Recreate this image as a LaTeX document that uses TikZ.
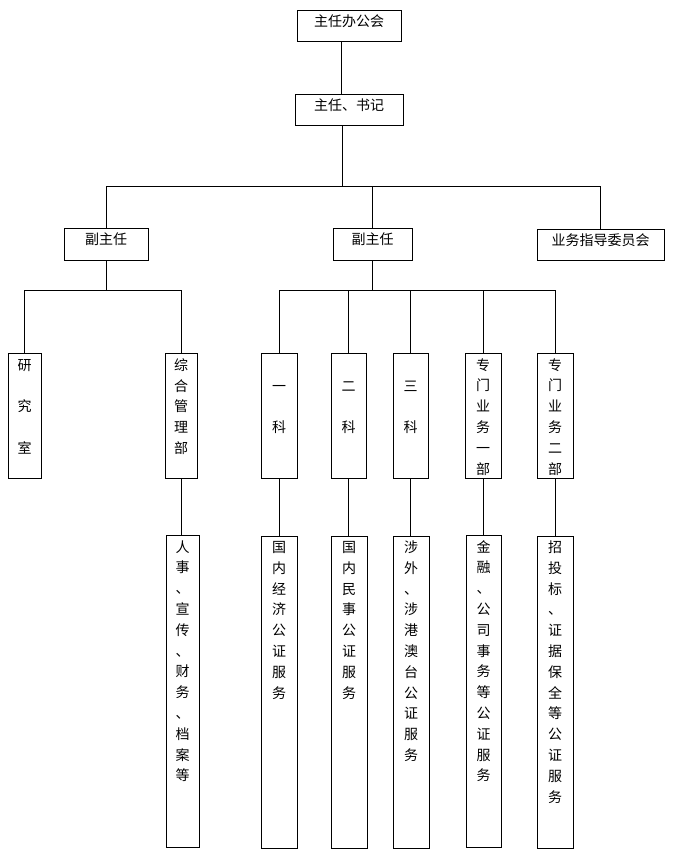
\documentclass[tikz,border=0pt]{standalone}
\usepackage{fontspec}
\newfontfamily\zhfont{Noto Sans CJK SC}
\newcommand{\zs}{\rule{0pt}{12pt}}
\begin{document}
\begin{tikzpicture}[x=1pt,y=-1pt,line width=1pt,
  box/.style={draw,line width=1pt,inner sep=0pt},
  txt/.style={font=\zhfont\fontsize{14pt}{20.8pt}\selectfont,align=center,inner sep=0pt,anchor=north}]
\fill[white] (0,0) rectangle (673,853);
\useasboundingbox (0,0) rectangle (673,853);
% level 1-2
\node[box,minimum width=104pt,minimum height=31pt] (b1) at (349,26.5) {};
\node[txt] (t1) at ([yshift=-4pt]b1.north) {\zs 主任办公会};
\node[box,minimum width=108pt,minimum height=31pt] (b2) at (349,110.5) {};
\node[txt] (t2) at ([yshift=-4pt]b2.north) {\zs 主任、书记};
% level 3
\node[box,minimum width=84pt,minimum height=32pt] (vl) at (106,244) {};
\node[txt] (tvl) at ([yshift=-4.5pt]vl.north) {\zs 副主任};
\node[box,minimum width=79pt,minimum height=32pt] (vc) at (372.5,244) {};
\node[txt] (tvc) at ([yshift=-4.5pt]vc.north) {\zs 副主任};
\node[box,minimum width=127pt,minimum height=31pt] (vw) at (600.5,244.5) {};
\node[txt] (tvw) at ([yshift=-4pt]vw.north) {\zs 业务指导委员会};
% level 4 (top 353, bottom 478)
\node[box,minimum width=33pt,minimum height=125pt] (r1) at (24.5,415.5) {};
\node[box,minimum width=32pt,minimum height=125pt] (r2) at (181,415.5) {};
\node[box,minimum width=36pt,minimum height=125pt] (r3) at (279,415.5) {};
\node[box,minimum width=35pt,minimum height=125pt] (r4) at (348.5,415.5) {};
\node[box,minimum width=35pt,minimum height=125pt] (r5) at (410.5,415.5) {};
\node[box,minimum width=36pt,minimum height=125pt] (r6) at (483,415.5) {};
\node[box,minimum width=36pt,minimum height=125pt] (r7) at (555,415.5) {};
\node[txt] (tr1) at ([yshift=-5.3pt]r1.north) {\zs 研\\[20.8pt]究\\[20.8pt]室};
\node[txt] (tr2) at ([yshift=-5.3pt]r2.north) {\zs 综\\合\\管\\理\\部};
\node[txt] (tr3) at ([yshift=-26pt]r3.north) {\zs 一\\[20.8pt]科};
\node[txt] (tr4) at ([yshift=-26pt]r4.north) {\zs 二\\[20.8pt]科};
\node[txt] (tr5) at ([yshift=-26pt]r5.north) {\zs 三\\[20.8pt]科};
\node[txt] (tr6) at ([yshift=-5pt]r6.north) {\zs 专\\门\\业\\务\\一\\部};
\node[txt] (tr7) at ([yshift=-5pt]r7.north) {\zs 专\\门\\业\\务\\二\\部};
% level 5 (top 536, bottom 848)
\node[box,minimum width=33pt,minimum height=312pt] (s2) at (182.5,691.5) {};
\node[box,minimum width=36pt,minimum height=312pt] (s3) at (279,692) {};
\node[box,minimum width=36pt,minimum height=312pt] (s4) at (349,692) {};
\node[box,minimum width=36pt,minimum height=312pt] (s5) at (411,692) {};
\node[box,minimum width=35pt,minimum height=312pt] (s6) at (483.5,691.5) {};
\node[box,minimum width=36pt,minimum height=312pt] (s7) at (555,692) {};
\node[txt] (ts2) at ([yshift=-4.5pt]s2.north) {\zs 人\\事\\、\\宣\\传\\、\\财\\务\\、\\档\\案\\等};
\node[txt] (ts3) at ([yshift=-4.5pt]s3.north) {\zs 国\\内\\经\\济\\公\\证\\服\\务};
\node[txt] (ts4) at ([yshift=-4.5pt]s4.north) {\zs 国\\内\\民\\事\\公\\证\\服\\务};
\node[txt] (ts5) at ([yshift=-4.5pt]s5.north) {\zs 涉\\外\\、\\涉\\港\\澳\\台\\公\\证\\服\\务};
\node[txt] (ts6) at ([yshift=-4.5pt]s6.north) {\zs 金\\融\\、\\公\\司\\事\\务\\等\\公\\证\\服\\务};
\node[txt] (ts7) at ([yshift=-4.5pt]s7.north) {\zs 招\\投\\标\\、\\证\\据\\保\\全\\等\\公\\证\\服\\务};
% bus coordinates
\coordinate (bus1) at (0,186);
\coordinate (bus2) at (0,290);
% connectors
\draw ([xshift=-8pt]b1.south) -- ([xshift=-8pt]b2.north);
\draw ([xshift=-7pt]b2.south) -- ([xshift=-7pt]b2.south |- bus1);
\draw (vl.north) |- (vw.north |- bus1) -- (vw.north);
\draw (vc.north) -- (vc.north |- bus1);
\draw (vl.south) -- (vl.south |- bus2);
\draw (r1.north) |- (r2.north |- bus2) -- (r2.north);
\draw (vc.south) -- (vc.south |- bus2);
\draw (r3.north) |- (r7.north |- bus2) -- (r7.north);
\draw (r4.north) -- (r4.north |- bus2);
\draw (r5.north) -- (r5.north |- bus2);
\draw (r6.north) -- (r6.north |- bus2);
\draw (r2.south) -- (r2.south |- s2.north);
\draw (r3.south) -- (r3.south |- s3.north);
\draw (r4.south) -- (r4.south |- s4.north);
\draw (r5.south) -- (r5.south |- s5.north);
\draw (r6.south) -- (r6.south |- s6.north);
\draw (r7.south) -- (r7.south |- s7.north);
\end{tikzpicture}
\end{document}
